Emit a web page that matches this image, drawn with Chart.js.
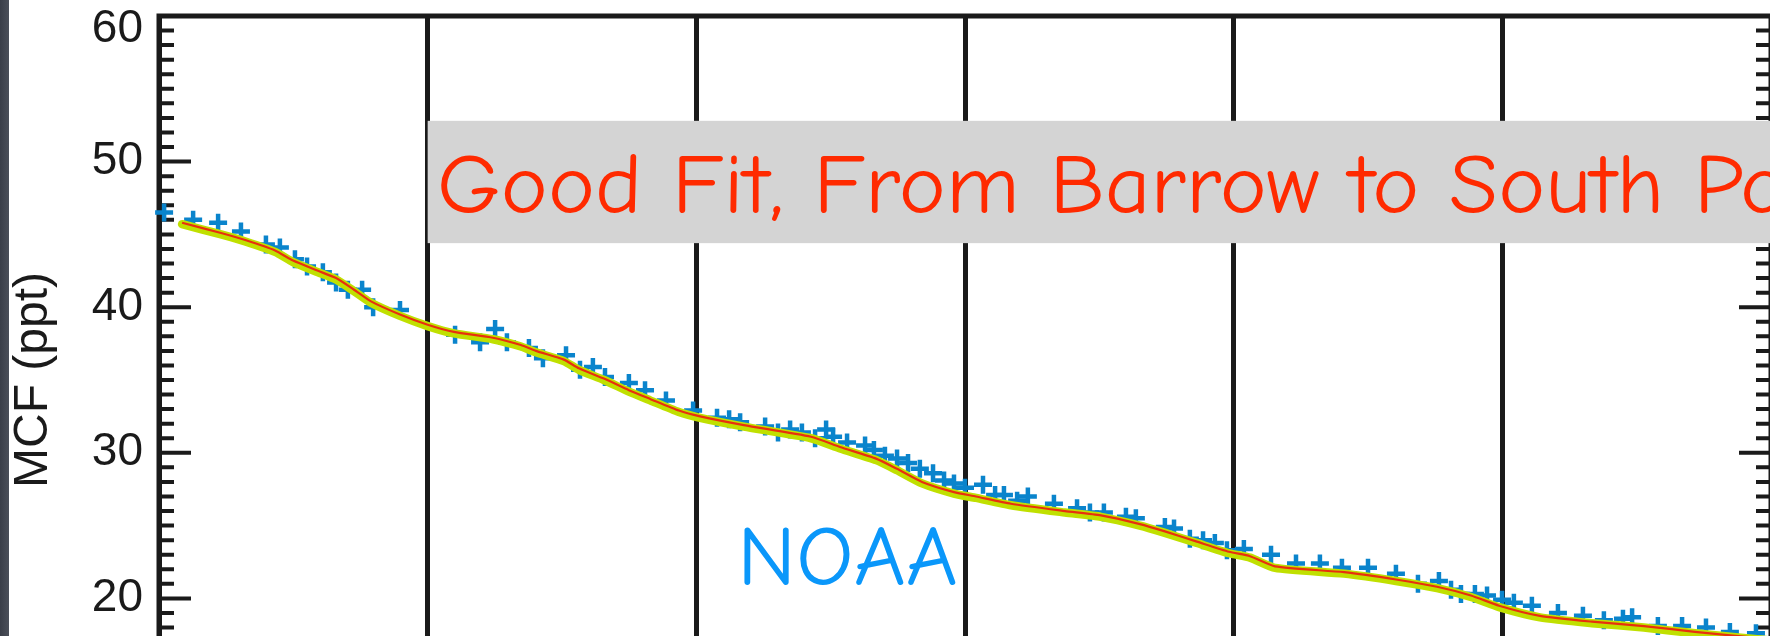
<!DOCTYPE html>
<html><head><meta charset="utf-8">
<script src="https://cdn.jsdelivr.net/npm/chart.js@4/dist/chart.umd.min.js"></script>
<style>
html,body{margin:0;padding:0;overflow:hidden;background:#fff;width:1770px;height:636px;}
#wrap{position:absolute;left:0;top:0;width:1790px;height:784px;}
#strip{position:absolute;left:0;top:0;width:9px;height:636px;background:linear-gradient(to right,#3a3e48,#4b4f59);z-index:2}
</style></head><body>
<div id="wrap"><canvas id="c" width="1790" height="784"></canvas></div>
<div id="strip"></div>
<script>
// ---- data ----
const yTickValues = [10, 20, 30, 40, 50, 60];
const yAxisTitle = 'MCF (ppt)';
const boxText = 'Good Fit, From Barrow to South Pole';
const sourceText = 'NOAA';

const obsYears = [2001.019,2001.127,2001.220,2001.305,2001.398,2001.450,2001.506,2001.551,2001.610,2001.659,2001.703,2001.756,2001.797,2001.897,
 2002.102,2002.195,2002.251,2002.295,2002.377,2002.429,2002.515,2002.567,2002.615,2002.660,2002.749,2002.809,2002.887,2002.988,
 2003.077,2003.122,2003.163,2003.256,2003.304,2003.349,2003.393,2003.442,2003.483,2003.509,2003.561,2003.628,2003.661,2003.702,2003.747,2003.788,2003.832,2003.881,2003.922,2003.959,
 2004.000,2004.067,2004.112,2004.145,2004.194,2004.234,2004.331,2004.417,2004.465,2004.517,2004.599,2004.636,2004.744,2004.778,2004.837,2004.886,2004.930,2004.975,
 2005.038,2005.139,2005.232,2005.321,2005.403,2005.500,2005.604,2005.686,2005.764,2005.809,2005.846,2005.898,2005.943,2005.999,
 2006.043,2006.110,2006.207,2006.300,2006.378,2006.449,2006.483,2006.579,2006.669,2006.758,2006.847,2006.944];
const obsMCF = [46.5,46.0,45.8,45.2,44.3,44.1,43.3,42.8,42.4,41.7,41.2,41.2,40.0,39.8,
 38.1,37.6,38.5,37.6,37.2,36.5,36.7,35.7,35.9,35.2,34.8,34.3,33.6,32.9,
 32.4,32.3,32.1,31.8,31.4,31.6,31.4,31.0,31.6,31.1,30.7,30.5,30.2,29.8,29.6,29.3,28.9,28.6,28.1,27.9,
 27.6,27.8,27.1,27.1,26.7,27.0,26.5,26.2,25.9,25.9,25.6,25.5,24.9,24.8,24.1,24.0,23.8,23.3,
 23.4,23.0,22.4,22.4,22.1,22.1,21.7,21.0,21.2,20.6,20.3,20.3,20.2,19.9,
 19.7,19.5,19.0,18.8,18.5,18.6,18.7,18.1,18.1,18.0,17.7,17.6];

const fitYears = [2001.086,2001.231,2001.324,2001.432,2001.499,2001.592,2001.659,2001.726,2001.789,2001.897,2002.000,2002.098,2002.243,2002.347,2002.403,2002.507,2002.563,2002.656,2002.749,2002.828,2002.935,2003.014,2003.177,2003.427,2003.535,2003.669,2003.747,2003.840,2003.959,2004.041,2004.171,2004.372,2004.506,2004.651,2004.744,2004.863,2004.983,2005.061,2005.154,2005.411,2005.604,2005.757,2005.883,2005.988,2006.140,2006.334,2006.527,2006.717,2007.000];
const greenFit = [45.7,45.0,44.5,43.8,43.1,42.4,41.9,41.1,40.3,39.4,38.7,38.2,37.8,37.3,36.9,36.3,35.7,35.0,34.2,33.6,32.8,32.4,31.8,31.0,30.3,29.5,28.8,27.9,27.2,26.9,26.4,25.9,25.6,25.0,24.5,23.8,23.1,22.8,22.1,21.7,21.2,20.7,20.1,19.4,18.7,18.3,18.0,17.6,17.1];
const redFit = [45.8,45.1,44.6,43.9,43.2,42.5,42.0,41.2,40.4,39.5,38.8,38.3,37.9,37.4,37.0,36.4,35.8,35.1,34.3,33.7,32.9,32.5,31.9,31.1,30.4,29.6,28.9,28.0,27.3,27.0,26.5,26.0,25.7,25.1,24.6,23.9,23.2,22.9,22.2,21.8,21.3,20.8,20.2,19.5,18.8,18.4,18.1,17.7,17.2];

const toXY = (xs, ys) => xs.map((x, i) => ({x, y: ys[i]}));

// ---- plugins ----
const frameTicks = {
  id: 'frameTicks',
  beforeDatasetsDraw(chart, args, o) {
    const {ctx, chartArea: a, scales: {y}} = chart;
    ctx.save();
    ctx.strokeStyle = o.color;
    ctx.lineWidth = o.tickWidth;
    ctx.beginPath();
    for (let v = y.min; v <= y.max + 1e-9; v += 1) {
      const py = y.getPixelForValue(v);
      const len = (Math.round(v) % 10 === 0) ? o.majorLen : o.minorLen;
      ctx.moveTo(a.left, py); ctx.lineTo(a.left + len, py);
      ctx.moveTo(a.right, py); ctx.lineTo(a.right - len, py);
    }
    ctx.stroke();
    ctx.lineWidth = o.frameWidth;
    ctx.strokeRect(a.left, a.top, a.right - a.left, a.bottom - a.top);
    ctx.restore();
  }
};

function drawFitted(ctx, text, fitText, family, color, capPx, xLeft, xFitEnd, baseline) {
  ctx.save();
  ctx.font = '100px ' + family;
  const cap = ctx.measureText('H').actualBoundingBoxAscent || 72;
  const size = 100 * capPx / cap;
  ctx.font = size.toFixed(2) + 'px ' + family;
  const w = ctx.measureText(fitText).width;
  const sx = (xFitEnd - xLeft) / w;
  ctx.translate(xLeft, baseline);
  ctx.scale(sx, 1);
  ctx.fillStyle = color;
  ctx.textBaseline = 'alphabetic';
  ctx.textAlign = 'left';
  ctx.fillText(text, 0, 0);
  ctx.restore();
}

const notes = {
  id: 'notes',
  afterDatasetsDraw(chart, args, o) {
    const {ctx, scales: {x, y}, width} = chart;
    const b = o.box;
    const bx = x.getPixelForValue(b.x0);
    const bt = y.getPixelForValue(b.yTop), bb = y.getPixelForValue(b.yBottom);
    ctx.save();
    ctx.fillStyle = b.fill;
    ctx.fillRect(bx, bt, width - bx, bb - bt);
    ctx.restore();
    const tb = y.getPixelForValue(b.textBase), tc = y.getPixelForValue(b.textCap);
    drawFitted(ctx, b.text, b.fitText, o.family, b.color, tb - tc,
      x.getPixelForValue(b.textX0), x.getPixelForValue(b.textX1), tb);
    const s = o.src;
    const sb = y.getPixelForValue(s.base), sc = y.getPixelForValue(s.cap);
    drawFitted(ctx, s.text, s.text, o.family, s.color, sb - sc,
      x.getPixelForValue(s.x0), x.getPixelForValue(s.x1), sb);
  }
};

const labelFont = "'Liberation Sans', Arial, Helvetica, sans-serif";

new Chart(document.getElementById('c'), {
  type: 'scatter',
  data: {
    datasets: [
      { label: 'NOAA', data: toXY(obsYears, obsMCF), order: 3, clip: false,
        pointStyle: 'cross', pointRadius: 9, pointBorderWidth: 4.5,
        borderColor: '#0a84cc', backgroundColor: '#0a84cc', showLine: false },
      { label: 'fit 1', data: toXY(fitYears, greenFit), order: 2, showLine: true,
        borderColor: '#c0e000', borderWidth: 8.5, pointRadius: 0, tension: 0.2,
        borderJoinStyle: 'round', borderCapStyle: 'round' },
      { label: 'fit 2', data: toXY(fitYears, redFit), order: 1, showLine: true,
        borderColor: '#e8300e', borderWidth: 2.2, pointRadius: 0, tension: 0.2 }
    ]
  },
  options: {
    responsive: false,
    devicePixelRatio: 1,
    animation: false,
    layout: { padding: { top: 16, left: 0, right: 19, bottom: 40 } },
    plugins: {
      legend: { display: false },
      tooltip: { enabled: false },
      frameTicks: { color: '#1a1a1a', tickWidth: 4, minorLen: 15, majorLen: 32, frameWidth: 5 },
      notes: {
        family: "'Comic Sans MS', 'Comic Neue', Lato, 'Noto Sans', sans-serif",
        box: { x0: 2002, yTop: 52.8, yBottom: 44.4, fill: '#d4d4d4',
               text: boxText, fitText: 'Good Fit, From Barrow to South ',
               textX0: 2002.035, textX1: 2006.713, textBase: 46.46, textCap: 50.45, color: '#ff2a00' },
        src: { text: sourceText, x0: 2003.151, x1: 2003.974, base: 20.89, cap: 24.81, color: '#0a97fa' }
      }
    },
    scales: {
      x: {
        type: 'linear', min: 2001, max: 2007,
        ticks: { display: false, stepSize: 1 },
        grid: { color: '#1a1a1a', lineWidth: 5, drawTicks: false },
        border: { display: false },
        afterFit: (s) => { s.height = 0; s.paddingLeft = 0; s.paddingRight = 0; }
      },
      y: {
        type: 'linear', min: 10, max: 60,
        afterBuildTicks: (s) => { s.ticks = yTickValues.map(v => ({value: v})); },
        ticks: {
          padding: 16, color: '#1a1a1a',
          font: (c) => ({ family: labelFont, size: 46,
            lineHeight: (c.tick && c.tick.value === 60) ? 0.56 : 1.2 }),
          callback: (v) => v === 60 ? ['', String(v)] : String(v)
        },
        grid: { display: false, drawTicks: false },
        border: { display: false },
        title: { display: true, text: yAxisTitle, color: '#1a1a1a',
                 font: { family: labelFont, size: 48 }, padding: { top: 5, bottom: 0 } },
        afterFit: (s) => { s.width = 159; s.paddingTop = 0; s.paddingBottom = 0; }
      }
    }
  },
  plugins: [frameTicks, notes]
});
</script></body></html>
